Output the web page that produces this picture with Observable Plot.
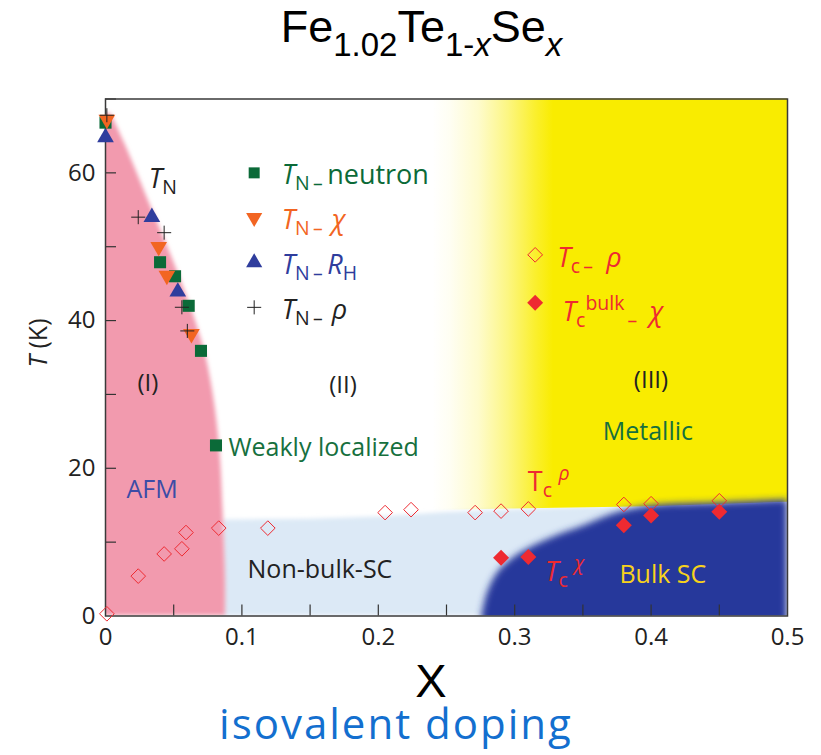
<!DOCTYPE html>
<html>
<head>
<meta charset="utf-8">
<script src="https://cdn.jsdelivr.net/npm/d3@7"></script>
<script src="https://cdn.jsdelivr.net/npm/@observablehq/plot@0.6"></script>
<style>
  body { margin: 0; background: #fff; }
  #wrap { position: relative; width: 821px; height: 755px; overflow: hidden; font-family: "Open Sans", sans-serif; }
  #wrap svg { position: absolute; left: 0; top: 0; }
  .lbl { position: absolute; white-space: nowrap; line-height: 1; }
  .lbl sub, .lbl sup { line-height: 0; font-size: 0.72em; }
  .lbl sub { vertical-align: -0.35em; }
  .lbl sup { vertical-align: 0.55em; }
  #title { position: absolute; left: 11px; top: 4px; width: 821px; text-align: center; font-family: "Liberation Sans", Arial, sans-serif; font-size: 45px; line-height: 1; color: #000; }
  #title sub { font-size: 33px; line-height: 0; vertical-align: -0.42em; }
  #xlab { position: absolute; left: 0; width: 862px; text-align: center; top: 662px; height: 38px; font-family: "Liberation Sans", Arial, sans-serif; font-size: 47px; line-height: 38px; color: #000; }
  #sub { position: absolute; left: 0; width: 792px; text-align: center; top: 702px; font-size: 42px; letter-spacing: 2px; line-height: 1; color: #136fcf; }
  #ylab { position: absolute; left: 37px; top: 343px; transform: translate(-50%, -50%) rotate(-90deg); font-size: 25px; line-height: 1; color: #222; white-space: nowrap; }
</style>
</head>
<body>
<div id="wrap">
  <div id="title">Fe<sub>1.02</sub>Te<sub>1-<i>x</i></sub>Se<sub><i>x</i></sub></div>
</div>
<script>
// ---------- data ----------
// T_N from neutron (green squares)
const neutronX = [0, 0.040, 0.051, 0.061, 0.070, 0.081];
const neutronT = [66.8, 47.9, 46.0, 42.0, 35.9, 23.1];
// T_N from susceptibility (orange down triangles)
const chiX = [0.001, 0.039, 0.045, 0.063];
const chiT = [67.2, 50.0, 46.1, 38.2];
// T_N from Hall coefficient (blue up triangles)
const rhX = [0, 0.034, 0.053];
const rhT = [64.8, 54.0, 43.9];
// T_N from resistivity (black plus)
const rhoX = [0.001, 0.024, 0.043, 0.056, 0.060];
const rhoT = [67.8, 54.0, 51.9, 41.8, 38.6];
// Tc from resistivity (open diamonds)
const tcRhoX = [0.001, 0.024, 0.043, 0.056, 0.059, 0.083, 0.119, 0.205, 0.224, 0.271, 0.290, 0.310, 0.380, 0.400, 0.450];
const tcRhoT = [0.3, 5.4, 8.4, 9.1, 11.3, 11.9, 11.9, 14.0, 14.4, 14.0, 14.2, 14.5, 15.1, 15.2, 15.6];
// bulk Tc from susceptibility (filled diamonds)
const tcBulkX = [0.290, 0.310, 0.380, 0.400, 0.450];
const tcBulkT = [7.9, 8.0, 12.3, 13.6, 14.1];

// phase region boundaries
const afmT = [0, 5, 15, 22, 30, 37, 47, 56, 64, 68];          // AFM (I) right edge
const afmX = [0.088, 0.088, 0.086, 0.084, 0.079, 0.071, 0.052, 0.032, 0.014, 0.004];
const nonBulkX = [0.086, 0.15, 0.2, 0.25, 0.3, 0.35, 0.42];     // non-bulk SC top edge
const nonBulkT = [13.0, 13.1, 13.4, 14.0, 14.4, 14.7, 14.9];
const metalX = [0.24, 0.3, 0.33, 0.4, 0.45, 0.5];              // metallic (III) lower edge
const metalT = [14.3, 14.5, 14.6, 14.8, 15.1, 15.4];
const bulkX = [0.276, 0.279, 0.284, 0.29, 0.3, 0.311, 0.33, 0.348, 0.365, 0.378, 0.4, 0.45, 0.5]; // bulk SC top edge
const bulkT = [0, 2.5, 4.8, 6.4, 8.0, 9.2, 10.8, 12.0, 13.3, 14.1, 14.9, 15.3, 15.7];

// axis ticks
const xLabelTicks = [0, 0.1, 0.2, 0.3, 0.4, 0.5];
const xMinorTicks = [0.05, 0.1, 0.15, 0.2, 0.25, 0.3, 0.35, 0.4, 0.45];
const yLabelTicks = [0, 20, 40, 60];
const yMinorTicks = [10, 20, 30, 40, 50, 60, 70];

// legend entries
const legendLeft = ["neutron", "chi", "RH", "rho"];
const legendRight = ["rho", "bulk"];

// ---------- build ----------
const zip = (xs, ts) => xs.map((x, i) => ({x, T: ts[i]}));
const downTriangle = {
  draw(context, size) {
    const y = Math.sqrt(size / (Math.sqrt(3) * 3));
    context.moveTo(0, 2 * y);
    context.lineTo(-Math.sqrt(3) * y, -y);
    context.lineTo(Math.sqrt(3) * y, -y);
    context.closePath();
  }
};

const C = {
  green: "#0b6a38", orange: "#f26522", blue: "#2f3d9d", black: "#222", red: "#ee2a31",
  pink: "#f29aae", light: "#dce9f6", yellow: "#f9ec00", navy: "#28389b"
};

const W = 821, H = 755, mT = 98.5, mB = 139.5, mL = 105, mR = 34;
const innerW = W - mL - mR, innerH = H - mT - mB;

// legend marker positions (data coords), laid out by index
const legL = legendLeft.map((k, i) => ({k, x: 0.109, T: 60.0 - i * 6.07}));
const legR = legendRight.map((k, i) => ({k, x: 0.315, T: 48.9 - i * 6.5}));

const plot = Plot.plot({
  width: W, height: H,
  marginTop: mT, marginBottom: mB, marginLeft: mL, marginRight: mR,
  style: {fontFamily: '"Open Sans", sans-serif', fontSize: "24px", color: "#222", background: "transparent", overflow: "visible"},
  x: {domain: [0, 0.5], ticks: xLabelTicks, tickSize: 0, tickPadding: 12, tickFormat: d => String(+d.toFixed(1)), label: null},
  y: {domain: [0, 70], ticks: yLabelTicks, tickSize: 0, tickPadding: 10, label: null},
  marks: [
    Plot.areaY(zip(nonBulkX, nonBulkT), {x: "x", y1: 0, y2: "T", fill: C.light, clip: true}),
    Plot.areaX(zip(afmX, afmT), {y: "T", x1: -0.01, x2: "x", fill: C.pink, curve: "catmull-rom", clip: true}),
    Plot.areaY(zip(metalX, metalT), {x: "x", y1: "T", y2: 72, fill: "url(#yellowFade)", clip: true}),
    Plot.areaY(zip(bulkX, bulkT), {x: "x", y1: -1, y2: "T", fill: C.navy, curve: "catmull-rom", clip: true}),
    Plot.ruleX(xMinorTicks, {x: d => d, insetTop: innerH - 11, stroke: "#333", strokeWidth: 1.2}),
    Plot.ruleY(yMinorTicks, {y: d => d, insetRight: innerW - 11, stroke: "#333", strokeWidth: 1.2}),
    Plot.frame({stroke: "#3a3a3a", strokeWidth: 1.5}),
    // data
    Plot.dot(zip(tcRhoX, tcRhoT), {x: "x", y: "T", symbol: "diamond2", r: 6.6, fill: "none", stroke: C.red, strokeWidth: 1}),
    Plot.dot(zip(tcBulkX, tcBulkT), {x: "x", y: "T", symbol: "diamond2", r: 7.2, fill: C.red}),
    Plot.dot(zip(rhX, rhT), {x: "x", y: "T", symbol: "triangle", r: 6.2, fill: C.blue}),
    Plot.dot(zip(neutronX, neutronT), {x: "x", y: "T", symbol: "square", r: 6.8, fill: C.green}),
    Plot.dot(zip(chiX, chiT), {x: "x", y: "T", symbol: downTriangle, r: 6.2, fill: C.orange}),
    Plot.dot(zip(rhoX, rhoT), {x: "x", y: "T", symbol: "plus", r: 4.6, stroke: C.black, strokeWidth: 1}),
    // legend markers
    Plot.dot(legL.filter(d => d.k === "neutron"), {x: "x", y: "T", symbol: "square", r: 6.2, fill: C.green}),
    Plot.dot(legL.filter(d => d.k === "chi"), {x: "x", y: "T", symbol: downTriangle, r: 6.0, fill: C.orange}),
    Plot.dot(legL.filter(d => d.k === "RH"), {x: "x", y: "T", symbol: "triangle", r: 6.0, fill: C.blue}),
    Plot.dot(legL.filter(d => d.k === "rho"), {x: "x", y: "T", symbol: "plus", r: 4.6, stroke: C.black, strokeWidth: 1}),
    Plot.dot(legR.filter(d => d.k === "rho"), {x: "x", y: "T", symbol: "diamond2", r: 6.6, fill: "none", stroke: C.red, strokeWidth: 1}),
    Plot.dot(legR.filter(d => d.k === "bulk"), {x: "x", y: "T", symbol: "diamond2", r: 7.2, fill: C.red})
  ]
});

// gradient + soft edges
const svg = d3.select(plot);
const defs = svg.insert("defs", ":first-child");
const grad = defs.append("linearGradient").attr("id", "yellowFade").attr("x1", 0).attr("x2", 1).attr("y1", 0).attr("y2", 0);
[[0, 0], [0.05, 0.05], [0.13, 0.2], [0.21, 0.48], [0.29, 0.82], [0.34, 1], [1, 1]].forEach(([o, a]) =>
  grad.append("stop").attr("offset", o).attr("stop-color", C.yellow).attr("stop-opacity", a));
const soft = defs.append("filter").attr("id", "soft").attr("x", "-10%").attr("y", "-10%").attr("width", "120%").attr("height", "120%");
soft.append("feGaussianBlur").attr("stdDeviation", 2);
const softer = defs.append("filter").attr("id", "softer").attr("x", "-10%").attr("y", "-10%").attr("width", "120%").attr("height", "120%");
softer.append("feGaussianBlur").attr("stdDeviation", 3.5);
const areas = plot.querySelectorAll('g[aria-label="area"] path');
if (areas.length >= 4) {
  areas[0].setAttribute("filter", "url(#soft)");
  areas[1].setAttribute("filter", "url(#soft)");
  areas[3].setAttribute("filter", "url(#softer)");
}
svg.selectAll('g[aria-label="x-axis"] text, g[aria-label="y-axis"] text, g[aria-label="x-axis tick label"] text, g[aria-label="y-axis tick label"] text')
  .attr("font-size", null).style("font-size", "24px").style("fill", "#222");

const wrap = document.getElementById("wrap");
wrap.appendChild(plot);

// ---------- text overlays positioned with the plot's scales ----------
const sx = plot.scale("x"), sy = plot.scale("y");
function place(html, x, T, {anchor = "middle", color = "#222", size = 24, font} = {}) {
  const d = document.createElement("div");
  d.className = "lbl";
  d.innerHTML = html;
  d.style.left = sx.apply(x) + "px";
  d.style.top = sy.apply(T) + "px";
  d.style.transform = anchor === "start" ? "translate(0,-50%)" : "translate(-50%,-50%)";
  d.style.color = color;
  d.style.fontSize = size + "px";
  if (font) d.style.fontFamily = font;
  wrap.appendChild(d);
}
const TN = '<i>T</i><sub>N&#8201;–</sub>&#8201;';
const legendHtml = {
  neutron: [TN + 'neutron', C.green],
  chi: [TN + '&#8201;<i>χ</i>', C.orange],
  RH: [TN + '<i>R</i><sub>H</sub>', C.blue],
  rho: [TN + '&#8201;<i>ρ</i>', C.black]
};
legL.forEach(d => place(legendHtml[d.k][0], 0.1295, d.T - 0.1, {anchor: "start", color: legendHtml[d.k][1], size: 27}));
place('<i>T</i><sub>c&#8201;–</sub>&#8201;&#8201;&#8201;<i>ρ</i>', 0.3315, 48.7, {anchor: "start", color: C.red, size: 27});
place('<i>T</i><sub>c</sub><sup>bulk</sup><sub>&#8201;–&#8201;</sub>&#8201;&#8201;<i>χ</i>', 0.3355, 41.3, {anchor: "start", color: C.red, size: 27});

place('<i>T</i><sub>N</sub>', 0.032, 59.4, {anchor: "start", color: C.black, size: 27});
place('(I)', 0.0315, 31.6, {size: 24});
place('(II)', 0.1745, 31.3, {size: 24});
place('(III)', 0.4003, 32.0, {size: 24});
place('Metallic', 0.398, 25.1, {color: "#16703e", size: 25});
place('AFM', 0.0345, 17.3, {color: "#3c4ca6", size: 25});
place('Weakly localized', 0.0905, 22.9, {anchor: "start", color: "#16703e", size: 25});
place('Non-bulk-SC', 0.1576, 6.4, {size: 25});
place('T<sub>c</sub><sup>&#8201;&#8201;<i>ρ</i></sup>', 0.310, 18.4, {anchor: "start", color: C.red, size: 27});
place('<i>T</i><sub>c</sub><sup>&#8201;&#8201;<i>χ</i></sup>', 0.3226, 6.2, {anchor: "start", color: C.red, size: 27});
place('Bulk SC', 0.409, 5.8, {color: "#f7d21c", size: 25});

// axis titles and caption
const yl = document.createElement("div"); yl.id = "ylab"; yl.innerHTML = '<i>T</i> (K)'; wrap.appendChild(yl);
const xl = document.createElement("div"); xl.id = "xlab"; xl.textContent = "X"; wrap.appendChild(xl);
const cap = document.createElement("div"); cap.id = "sub"; cap.textContent = "isovalent doping"; wrap.appendChild(cap);
</script>
</body>
</html>
